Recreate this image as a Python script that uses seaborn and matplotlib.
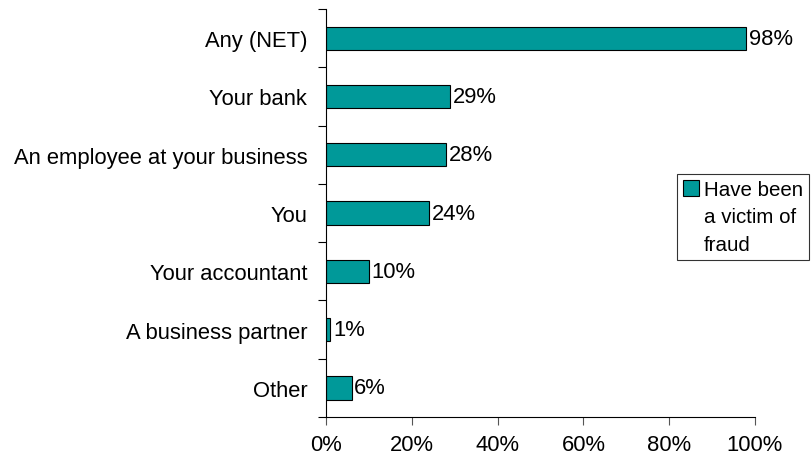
import matplotlib
matplotlib.use("Agg")
import matplotlib.pyplot as plt
from matplotlib.patches import Patch
import seaborn as sns
import pandas as pd
import numpy as np
from matplotlib.ticker import FixedLocator, PercentFormatter

categories = ["Any (NET)", "Your bank", "An employee at your business", "You",
              "Your accountant", "A business partner", "Other"]
values = [98, 29, 28, 24, 10, 1, 6]
series_lines = ["Have been", "a victim of", "fraud"]
x_ticks = [0, 20, 40, 60, 80, 100]

sns.set_style("white")
plt.rcParams["font.family"] = ["Liberation Sans", "DejaVu Sans"]
plt.rcParams["text.color"] = "black"
plt.rcParams["xtick.color"] = "black"
plt.rcParams["ytick.color"] = "black"
plt.rcParams["xtick.labelcolor"] = "black"
plt.rcParams["ytick.labelcolor"] = "black"

FS = 15.8
LEG_FS = 14.8
TEAL = "#009999"

df = pd.DataFrame({"category": categories, "value": values})

fig = plt.figure(figsize=(8.12, 4.64), dpi=100)
ax = fig.add_axes([0.4015, 0.0991, 0.5283, 0.8793])

sns.barplot(data=df, x="value", y="category", orient="h", color=TEAL,
            edgecolor="black", linewidth=0.8, width=0.4, saturation=1, ax=ax)

for bar, v in zip(ax.patches, values):
    ax.text(bar.get_width() + 0.6, bar.get_y() + bar.get_height() / 2, f"{v}%",
            va="center", ha="left", fontsize=FS, color="black")

ax.set_xlim(0, 100)
ax.set_ylim(len(categories) - 0.5, -0.5)
ax.set_xticks(x_ticks)
ax.xaxis.set_major_formatter(PercentFormatter(decimals=0))
ax.set_xlabel("")
ax.set_ylabel("")

# category tick marks sit on the band boundaries
ax.tick_params(axis="y", which="major", length=0, pad=13.5, labelsize=FS)
ax.yaxis.set_minor_locator(FixedLocator(np.arange(-0.5, len(categories), 1.0)))
ax.tick_params(axis="y", which="minor", length=6, width=0.8, color="black", direction="out", left=True)
ax.tick_params(axis="x", which="major", length=6, width=0.8, color="#555555", direction="out",
               bottom=True, pad=6, labelsize=FS)

for side in ["top", "right"]:
    ax.spines[side].set_visible(False)
for side in ["left", "bottom"]:
    ax.spines[side].set_color("black")
    ax.spines[side].set_linewidth(0.8)

# series key: swatch beside the first line of the wrapped name
handles = [Patch(facecolor=TEAL, edgecolor="black", linewidth=0.8)] + \
          [Patch(facecolor="none", edgecolor="none") for _ in series_lines[1:]]
leg = fig.legend(handles, series_lines, loc="upper left",
                 bbox_to_anchor=(677 / 812, 1 - 175 / 464), frameon=True, fancybox=False,
                 handlelength=0.75, handleheight=0.75, handletextpad=0.25, borderpad=0.3,
                 labelspacing=0.4, fontsize=LEG_FS, borderaxespad=0)
leg.get_frame().set_edgecolor("black")
leg.get_frame().set_linewidth(0.8)

fig.savefig("out.png", dpi=100)
